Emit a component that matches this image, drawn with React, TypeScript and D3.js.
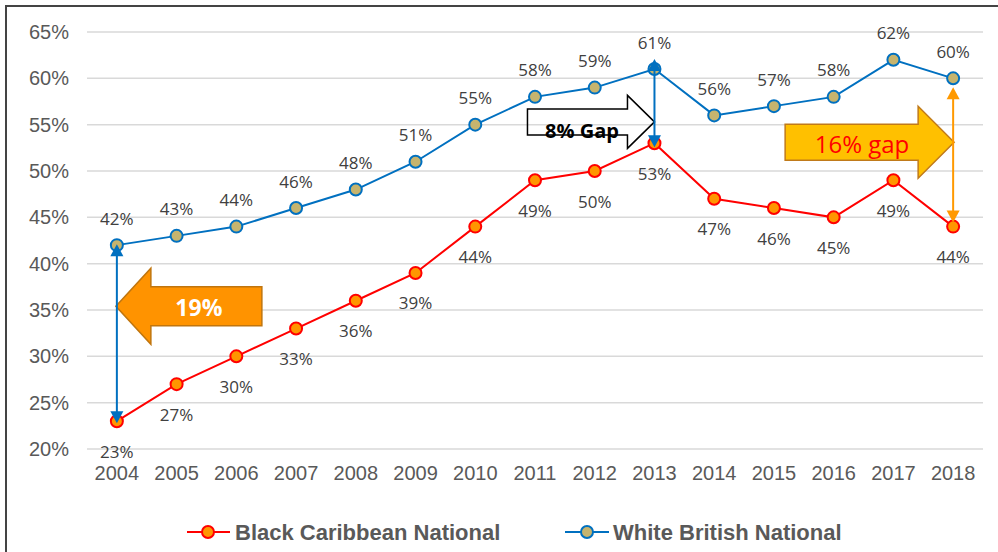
import React from 'react';
import * as d3 from 'd3';

const years = ['2004','2005','2006','2007','2008','2009','2010','2011','2012','2013','2014','2015','2016','2017','2018'];
const blackCaribbean = [23,27,30,33,36,39,44,49,50,53,47,46,45,49,44];
const whiteBritish = [42,43,44,46,48,51,55,58,59,61,56,57,58,62,60];
const yTicks = [20,25,30,35,40,45,50,55,60,65];
const seriesNames = ['Black Caribbean National','White British National'];

const W = 998, H = 552;
const AXIS_FONT = '"Liberation Sans", Arial, sans-serif';
const LABEL_FONT = '"Open Sans", sans-serif';

function blockArrow(tx: number, ty: number, dir: number, headLen: number, headHalf: number, bodyHalf: number, bodyLen: number) {
  const hb = tx - dir * headLen;
  const be = tx - dir * (headLen + bodyLen);
  return `M${tx},${ty} L${hb},${ty - headHalf} L${hb},${ty - bodyHalf} L${be},${ty - bodyHalf} L${be},${ty + bodyHalf} L${hb},${ty + bodyHalf} L${hb},${ty + headHalf} Z`;
}

function DoubleArrow({ x0, y0, y1, color }: { x0: number; y0: number; y1: number; color: string }) {
  const hw = 6.5, hl = 12;
  return (
    <g>
      <line x1={x0} x2={x0} y1={y0 + hl - 1} y2={y1 - hl + 1} stroke={color} strokeWidth={2} />
      <path d={`M${x0},${y0} L${x0 - hw},${y0 + hl} L${x0 + hw},${y0 + hl} Z`} fill={color} />
      <path d={`M${x0},${y1} L${x0 - hw},${y1 - hl} L${x0 + hw},${y1 - hl} Z`} fill={color} />
    </g>
  );
}

export default function App() {
  const x = d3.scalePoint<string>().domain(years).range([87, 983]).padding(0.5);
  const y = d3.scaleLinear().domain([20, 65]).range([449, 32]);
  const px = (i: number) => x(years[i]) as number;
  const line = d3.line<number>().x((_, i) => px(i)).y(d => y(d));

  const blue = '#0070C0', red = '#FF0000';
  const blueFill = '#C6B46E', redFill = '#FF9600';

  const i2004 = 0, i2013 = 9, i2018 = 14;

  return (
    <svg width={W} height={H} style={{ position: 'absolute', left: 0, top: 0, background: '#fff' }}>
      <rect x={6} y={6} width={1000} height={560} fill="#fff" stroke="#444" strokeWidth={2} />
      {yTicks.map(t => (
        <g key={t}>
          <line x1={87} x2={983} y1={y(t)} y2={y(t)} stroke="#D9D9D9" strokeWidth={1.5} />
          <text x={69} y={y(t)} textAnchor="end" dominantBaseline="central" fontFamily={AXIS_FONT} fontSize={20} fill="#595959">{t}%</text>
        </g>
      ))}
      {years.map((yr, i) => (
        <text key={yr} x={px(i)} y={473} textAnchor="middle" dominantBaseline="central" fontFamily={AXIS_FONT} fontSize={20} fill="#595959">{yr}</text>
      ))}

      <path d={line(blackCaribbean) || ''} fill="none" stroke={red} strokeWidth={2} />
      <path d={line(whiteBritish) || ''} fill="none" stroke={blue} strokeWidth={2} />
      {blackCaribbean.map((v, i) => (
        <circle key={'b' + i} cx={px(i)} cy={y(v)} r={6} fill={redFill} stroke={red} strokeWidth={2} />
      ))}
      {whiteBritish.map((v, i) => (
        <circle key={'w' + i} cx={px(i)} cy={y(v)} r={6} fill={blueFill} stroke={blue} strokeWidth={2} />
      ))}
      {blackCaribbean.map((v, i) => (
        <text key={'bl' + i} x={px(i)} y={y(v) + 30} textAnchor="middle" dominantBaseline="central" fontFamily={LABEL_FONT} fontSize={17} fill="#404040">{v}%</text>
      ))}
      {whiteBritish.map((v, i) => (
        <text key={'wl' + i} x={px(i)} y={y(v) - 27} textAnchor="middle" dominantBaseline="central" fontFamily={LABEL_FONT} fontSize={17} fill="#404040">{v}%</text>
      ))}

      {/* 19% left arrow */}
      <path d={blockArrow(px(i2004) - 1, y(35.4), -1, 35, 38, 19.5, 111)} fill="#FF9300" stroke="#C0750E" strokeWidth={1.5} />
      <text x={px(i2004) + 82} y={y(35.4) + 1} textAnchor="middle" dominantBaseline="central" fontFamily={LABEL_FONT} fontWeight="bold" fontSize={23} fill="#fff">19%</text>

      {/* 8% Gap arrow */}
      <path d={blockArrow(px(i2013), y(55.3), 1, 27, 26.5, 13, 100)} fill="none" stroke="#000" strokeWidth={1.5} />
      <text x={582} y={y(55.3) + 9} textAnchor="middle" dominantBaseline="central" fontFamily={LABEL_FONT} fontWeight="bold" fontSize={20} fill="#000">8% Gap</text>

      {/* 16% gap arrow */}
      <path d={blockArrow(px(i2018) + 1, y(53.1), 1, 36, 36, 18, 133)} fill="#FFC000" stroke="#C07A1A" strokeWidth={1.5} />
      <text x={862} y={y(53.1) + 1} textAnchor="middle" dominantBaseline="central" fontFamily={LABEL_FONT} fontSize={24} fill="#FF0000">16% gap</text>

      <DoubleArrow x0={px(i2004)} y0={y(whiteBritish[i2004]) - 1} y1={y(blackCaribbean[i2004]) + 2} color={blue} />
      <DoubleArrow x0={px(i2013)} y0={y(whiteBritish[i2013]) - 10} y1={y(blackCaribbean[i2013]) + 4} color={blue} />
      <DoubleArrow x0={px(i2018)} y0={y(whiteBritish[i2018]) + 9} y1={y(blackCaribbean[i2018]) - 4} color="#FF9900" />

      {/* legend */}
      <line x1={187} x2={230} y1={532} y2={532} stroke={red} strokeWidth={2} />
      <circle cx={208} cy={532} r={6} fill={redFill} stroke={red} strokeWidth={2} />
      <text x={235} y={532} dominantBaseline="central" fontFamily={AXIS_FONT} fontWeight="bold" fontSize={22} fill="#595959">{seriesNames[0]}</text>
      <line x1={565} x2={609} y1={532} y2={532} stroke={blue} strokeWidth={2} />
      <circle cx={587} cy={532} r={6} fill={blueFill} stroke={blue} strokeWidth={2} />
      <text x={613} y={532} dominantBaseline="central" fontFamily={AXIS_FONT} fontWeight="bold" fontSize={22} fill="#595959">{seriesNames[1]}</text>
    </svg>
  );
}
